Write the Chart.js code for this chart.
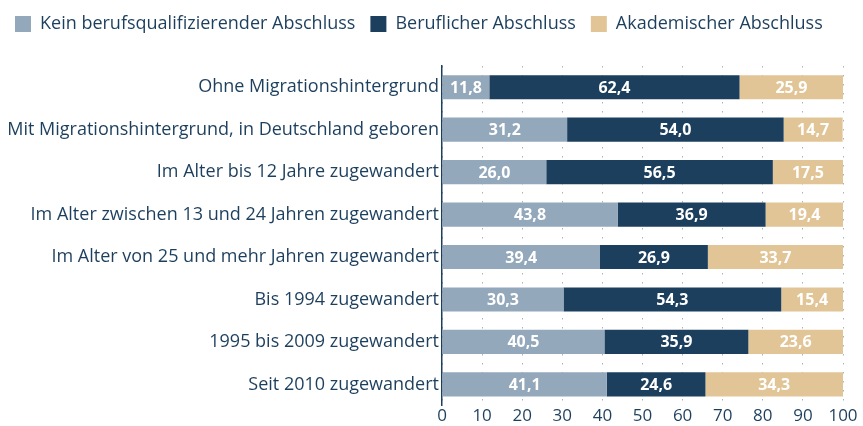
<!DOCTYPE html>
<html>
<head>
<meta charset="utf-8">
<script src="https://cdn.jsdelivr.net/npm/chart.js@4"></script>
<style>
  body { margin: 0; background: #fff; }
  #wrap { width: 863px; height: 426px; }
</style>
</head>
<body>
<div id="wrap"><canvas id="chart" width="863" height="426"></canvas></div>
<script>
var categories = [
  'Ohne Migrationshintergrund',
  'Mit Migrationshintergrund, in Deutschland geboren',
  'Im Alter bis 12 Jahre zugewandert',
  'Im Alter zwischen 13 und 24 Jahren zugewandert',
  'Im Alter von 25 und mehr Jahren zugewandert',
  'Bis 1994 zugewandert',
  '1995 bis 2009 zugewandert',
  'Seit 2010 zugewandert'
];
var seriesNames = ['Kein berufsqualifizierender Abschluss', 'Beruflicher Abschluss', 'Akademischer Abschluss'];
var keinAbschluss = [11.8, 31.2, 26.0, 43.8, 39.4, 30.3, 40.5, 41.1];
var beruflich = [62.4, 54.0, 56.5, 36.9, 26.9, 54.3, 35.9, 24.6];
var akademisch = [25.9, 14.7, 17.5, 19.4, 33.7, 15.4, 23.6, 34.3];
var xTicks = [0, 10, 20, 30, 40, 50, 60, 70, 80, 90, 100];

var colors = ['#93a8bb', '#1c3f5e', '#e2c597'];
var textColor = '#1d3f5e';
var fontFamily = '"Open Sans", sans-serif';

// draws the values inside each bar segment
var barLabels = {
  id: 'barLabels',
  afterDatasetsDraw: function(chart) {
    var ctx = chart.ctx;
    ctx.save();
    ctx.font = 'bold 16px ' + fontFamily;
    ctx.fillStyle = '#ffffff';
    ctx.textAlign = 'center';
    ctx.textBaseline = 'middle';
    chart.data.datasets.forEach(function(ds, i) {
      var meta = chart.getDatasetMeta(i);
      meta.data.forEach(function(bar, j) {
        var x = (bar.x + bar.base) / 2;
        ctx.fillText(ds.data[j].toFixed(1).replace('.', ','), x, bar.y + 1);
      });
    });
    ctx.restore();
  }
};

// extra room below the legend
var legendGap = {
  id: 'legendGap',
  beforeInit: function(chart) {
    var fit = chart.legend.fit;
    chart.legend.fit = function() {
      fit.bind(chart.legend)();
      this.height += 23;
    };
  }
};

var datasets = [keinAbschluss, beruflich, akademisch].map(function(vals, i) {
  return {
    label: seriesNames[i],
    data: vals,
    backgroundColor: colors[i],
    borderWidth: 0,
    barPercentage: 0.57,
    categoryPercentage: 1.0
  };
});

new Chart(document.getElementById('chart').getContext('2d'), {
  type: 'bar',
  data: { labels: categories, datasets: datasets },
  plugins: [barLabels, legendGap],
  options: {
    indexAxis: 'y',
    responsive: false,
    animation: false,
    layout: { padding: { left: 0, right: 20, top: 0, bottom: 0 } },
    plugins: {
      legend: {
        position: 'top',
        align: 'start',
        labels: {
          boxWidth: 16,
          boxHeight: 16,
          padding: 15,
          color: textColor,
          font: { family: fontFamily, size: 18 }
        }
      },
      tooltip: { enabled: false }
    },
    scales: {
      x: {
        stacked: true,
        min: 0,
        max: 100,
        afterBuildTicks: function(axis) {
          axis.ticks = xTicks.map(function(v) { return { value: v }; });
        },
        grid: {
          color: '#aab2bc',
          lineWidth: 1,
          drawTicks: false
        },
        border: { display: false, dash: [1.5, 7.5] },
        ticks: {
          color: textColor,
          padding: 0,
          font: { family: fontFamily, size: 17 }
        }
      },
      y: {
        stacked: true,
        afterFit: function(axis) { axis.width = 442; },
        grid: { display: false, drawTicks: false },
        border: { display: true, color: textColor, width: 1.5 },
        ticks: {
          color: textColor,
          padding: 3,
          font: { family: fontFamily, size: 18 }
        }
      }
    }
  }
});
</script>
</body>
</html>
